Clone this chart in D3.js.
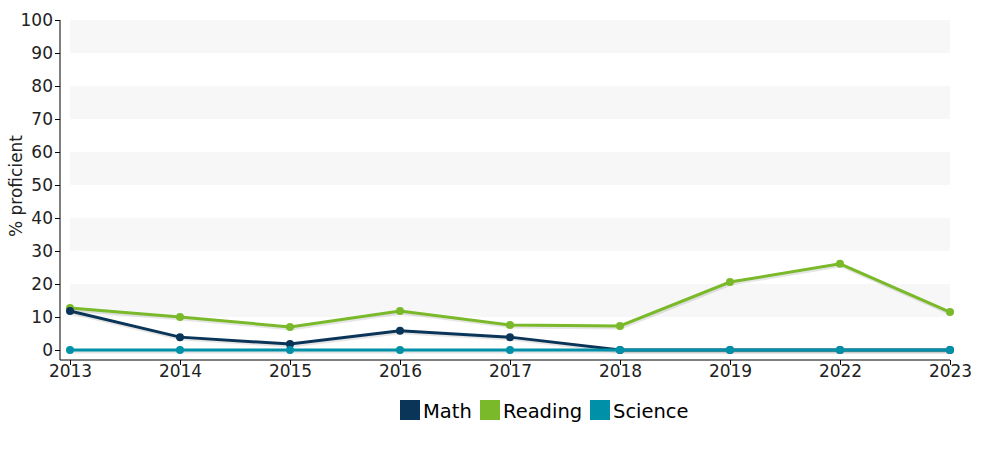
<!DOCTYPE html>
<html><head><meta charset="utf-8">
<script src="https://cdn.jsdelivr.net/npm/d3@7"></script>
<style>body{margin:0;background:#fff;font-family:"DejaVu Sans",Verdana,sans-serif;}</style>
</head><body><svg id="c" width="1000" height="450"></svg>
<script>
const years = ["2013","2014","2015","2016","2017","2018","2019","2022","2023"];
const math = [11.8, 3.9, 1.8, 5.8, 3.9, 0, 0, 0, 0];
const reading = [12.7, 10, 7, 11.8, 7.6, 7.3, 20.6, 26.1, 11.5];
const science = [0, 0, 0, 0, 0, 0, 0, 0, 0];
const yTicks = [0,10,20,30,40,50,60,70,80,90,100];
const seriesNames = ["Math","Reading","Science"];
const seriesColors = ["#0b3558","#7ab929","#0091a8"];

const svg = d3.select("#c");
const x = d3.scalePoint().domain(years).range([70, 950]);
const y = d3.scaleLinear().domain([0,100]).range([350, 20]);

const bands = [[10,20],[30,40],[50,60],[70,80],[90,100]];
svg.selectAll("rect.band").data(bands).enter().append("rect")
  .attr("x",70).attr("width",880)
  .attr("y",d=>y(d[1])).attr("height",d=>y(d[0])-y(d[1]))
  .attr("fill","#f7f7f7");

const ya = svg.append("g").attr("transform","translate(60,0)")
  .call(d3.axisLeft(y).tickValues(yTicks).tickSize(5).tickPadding(2).tickSizeOuter(0));
ya.select(".domain").attr("d","M0,20V360").attr("stroke","#000");
ya.selectAll("text").attr("font-size",17).attr("fill","#222").attr("font-family","DejaVu Sans, Verdana, sans-serif").attr("dy","0.35em");
const xa = svg.append("g").attr("transform","translate(0,360)")
  .call(d3.axisBottom(x).tickSize(5).tickPadding(2).tickSizeOuter(0));
xa.select(".domain").attr("d","M60,0H950").attr("stroke","#000");
xa.selectAll("text").attr("font-size",17).attr("fill","#222").attr("font-family","DejaVu Sans, Verdana, sans-serif").attr("dy","0.6em");

svg.append("text").attr("transform","translate(22,186) rotate(-90)")
  .attr("text-anchor","middle").attr("font-size",17).attr("fill","#222")
  .text("% proficient");

const data = [math, reading, science];
const line = d3.line().x((d,i)=>x(years[i])).y(d=>y(d));
[1,0,2].forEach(k=>{
  const g = svg.append("g");
  g.append("path").datum(data[k]).attr("d",line).attr("fill","none")
    .attr("stroke","rgba(0,0,0,0.1)").attr("stroke-width",3).attr("transform","translate(1,2)");
  g.append("path").datum(data[k]).attr("d",line).attr("fill","none")
    .attr("stroke",seriesColors[k]).attr("stroke-width",3);
  g.selectAll("circle").data(data[k]).enter().append("circle")
    .attr("cx",(d,i)=>x(years[i])).attr("cy",d=>y(d)).attr("r",4)
    .attr("fill",seriesColors[k]);
});

const lx = [400, 480, 590];
seriesNames.forEach((n,i)=>{
  svg.append("rect").attr("x",lx[i]).attr("y",400).attr("width",20).attr("height",20).attr("fill",seriesColors[i]);
  svg.append("text").attr("x",lx[i]+23).attr("y",418).attr("font-size",19.5).attr("fill","#000").text(n);
});
</script></body></html>
